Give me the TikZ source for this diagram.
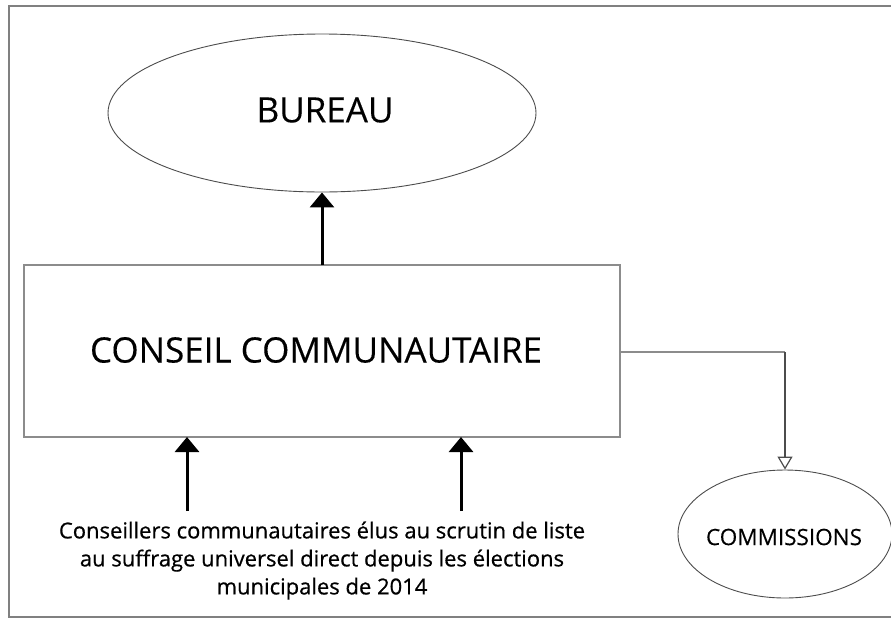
\documentclass[tikz,border=0pt]{standalone}
\usepackage{fontspec}
\setmainfont{Open Sans}
\newfontfamily\boldish[FakeBold=0.6]{Open Sans}
\newfontfamily\semiish[FakeBold=0.25]{Open Sans}
\usetikzlibrary{shapes.geometric,arrows.meta}
\begin{document}
\begin{tikzpicture}[x=1pt,y=-1pt,
  frame/.style={draw=black!50,line width=2pt},
  box/.style={draw=black!45,line width=2pt},
  oval/.style={draw=black!70,line width=0.9pt,ellipse,inner sep=0pt},
  bigarrow/.style={line width=3pt,-{Triangle[length=15pt,width=24pt]}},
  openarrow/.style={draw=black!70,line width=1.6pt,-{Triangle[open,length=13pt,width=15pt,line width=1.2pt]}}
]
\useasboundingbox (0,0) rectangle (891,619);
\begin{scope}
\clip (0,0) rectangle (891,619);
\draw[frame] (9,6) rectangle (900,617);
\end{scope}
\node[oval,minimum width=428pt,minimum height=158pt] (bureau) at (322,113) {};
\node[font=\semiish\fontsize{35}{40}\selectfont] (bureaut) at (325,110) {BUREAU};
\draw[box] (24,265) rectangle (620,437);
\node[font=\semiish\fontsize{35}{42}\selectfont] (conseil) at (316,350) {CONSEIL COMMUNAUTAIRE};
\coordinate (ctop) at (322,265);
\draw[bigarrow] (ctop) -- (bureau.south);
\node[oval,minimum width=214pt,minimum height=128pt] (comm) at (785,534) {};
\node[font=\semiish\fontsize{22.5}{25}\selectfont] (commt) at (784,537) {COMMISSIONS};
\coordinate (cright) at (620,352);
\coordinate (bend) at (785,352);
\draw[box,line width=1.6pt] (cright) -- (bend);
\draw[openarrow] (bend) -- (comm.north);
\node[font=\boldish\fontsize{22}{28}\selectfont,align=center,anchor=north] (txt) at (322,518) {Conseillers communautaires élus au scrutin de liste\\au suffrage universel direct depuis les élections\\municipales de 2014};
\coordinate (a1) at (187,511);
\coordinate (b1) at (187,437);
\coordinate (a2) at (461,511);
\coordinate (b2) at (461,437);
\draw[bigarrow] (a1) -- (b1);
\draw[bigarrow] (a2) -- (b2);
\end{tikzpicture}
\end{document}
